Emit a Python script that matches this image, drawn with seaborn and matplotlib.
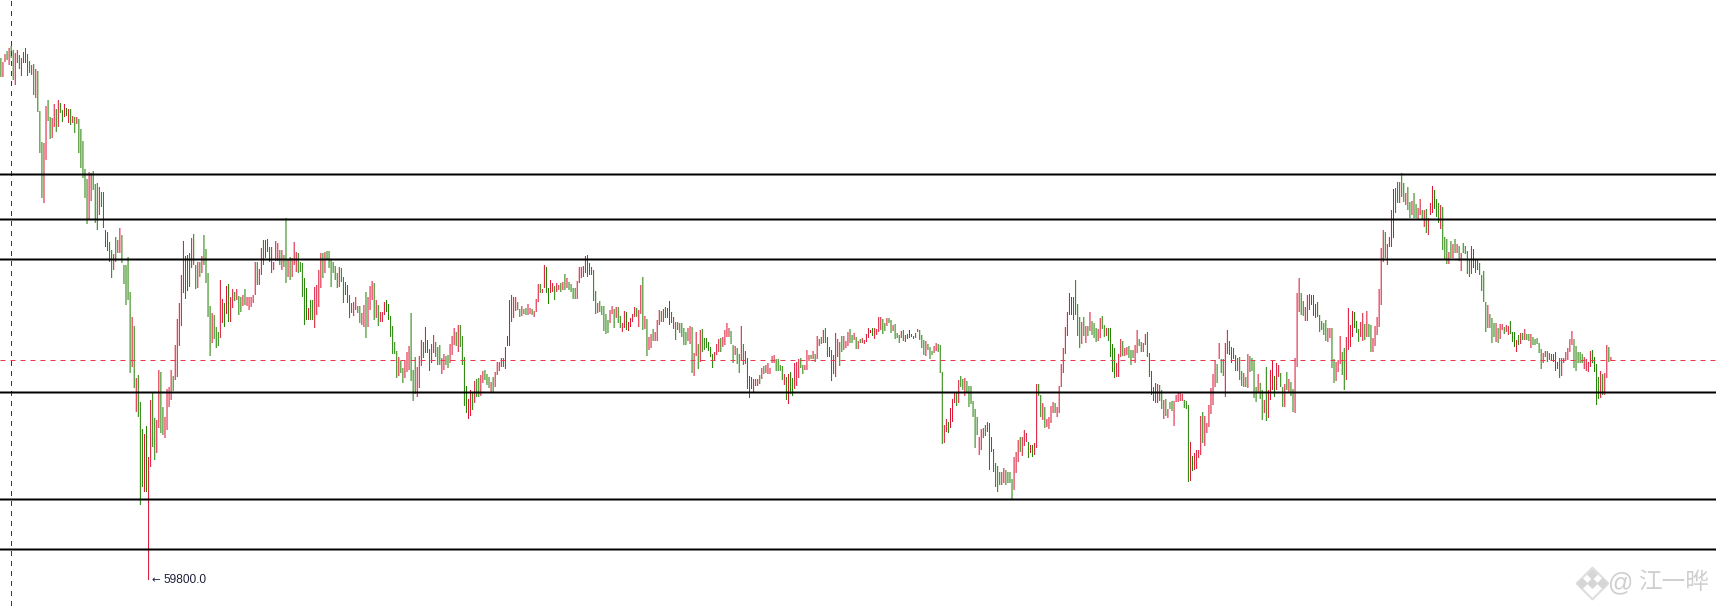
import matplotlib
matplotlib.use("Agg")
import matplotlib.pyplot as plt
import pandas as pd
import seaborn as sns

# Price = LOW_PRICE + TICK * value, every series below is in ticks above the low
LOW_PRICE = 59800
TICK = 25

high_a = [522, 518, 526, 529, 532, 534, 530, 527, 530, 525,
          522, 528, 532, 526, 519, 515, 516, 511, 509,
          469, 438, 437, 474, 480, 463, 462, 476, 471, 480,
          477, 470, 476, 472, 471, 471, 464, 463, 463, 461,
          451, 439, 411, 401, 408, 407, 409, 396, 397, 393,
          388, 388]
low_a = [503, 503, 518, 520, 515, 522, 500, 495, 517, 511,
         504, 517, 517, 504, 507, 505, 485, 482, 468,
         427, 382, 377, 420, 459, 441, 442, 453, 448, 453,
         467, 458, 463, 464, 457, 455, 457, 447, 456, 427,
         412, 402, 382, 356, 360, 379, 390, 357, 350, 365,
         373, 352]
dir_a = ("grrgrggrrg" "rrgggrgrg" "ggrrggrrgr" "ggrgrgrgrg"
         "ggggrrgggr" "gg")

high_b = [350, 348, 338, 330, 326, 343, 340, 352, 345, 315,
          315, 323, 288, 263, 254, 202, 205, 178, 151,
          146, 154, 123, 180, 187, 162, 160, 210, 208, 173,
          163, 191, 193, 210, 204, 235, 261, 277, 305, 339,
          324, 325, 327, 342, 346, 315, 318, 318, 324, 345,
          331, 307, 274, 267, 265, 253, 248, 300, 281, 277,
          294, 296, 283, 291, 288, 291, 284, 283, 285, 291,
          283, 283, 283, 285, 318, 318, 311, 332, 340, 340,
          341, 333, 333, 318, 339, 337, 330, 330, 325, 362,
          320, 323, 322, 338, 328, 327, 318, 317, 302, 292,
          272, 280, 280, 293, 295, 310, 327, 327, 328, 329]
low_b = [333, 329, 318, 302, 310, 318, 327, 327, 317, 296,
         275, 280, 207, 213, 192, 168, 163, 75, 93,
         88, 88, 0, 113, 133, 120, 127, 152, 147, 145,
         142, 150, 173, 180, 189, 200, 203, 234, 254, 287,
         281, 289, 293, 312, 315, 291, 292, 303, 307, 315,
         297, 263, 224, 237, 241, 232, 234, 242, 257, 253,
         266, 258, 258, 272, 279, 280, 265, 268, 274, 275,
         274, 270, 273, 277, 285, 295, 295, 305, 315, 322,
         328, 318, 307, 310, 319, 319, 315, 310, 313, 297,
         303, 300, 303, 315, 308, 307, 308, 283, 255, 260,
         260, 260, 260, 252, 265, 273, 292, 302, 307, 320]
dir_b = ("ggggrgrrgg" "gggrgrggg" "rgrrggrrgg" "rrrrgrrrrr"
         "grgrggrgrg" "gggrgggrrg" "rgrrgrggrg" "rrrrrgrrgr"
         "ggrrrrgrgg" "rgrrrggggg" "rggrrrrgrg")

high_c = [329, 320, 318, 314, 307, 313, 312, 303, 298, 295, 285,
          277, 278, 283, 274, 274, 267, 275, 288, 283, 294,
          299, 297, 280, 275, 268, 268, 278, 280, 276, 264,
          254, 238, 229, 223, 219, 212, 219, 228, 234, 267,
          210, 223, 213, 224, 240, 238, 253, 240, 231, 236,
          245, 238, 233, 235, 222, 226, 224, 225, 236, 244,
          252, 248, 255, 255, 244, 223, 194, 181, 190, 187,
          199, 201, 202, 205, 209, 210, 206, 203, 198, 203,
          208, 218, 218, 222, 222, 233, 244, 280, 285, 283,
          283, 278, 271, 274, 271, 272, 276, 272, 271, 269,
          281, 296, 296, 291, 315, 313, 292, 300, 297, 294, 297,
          295, 297, 298, 306, 302, 298, 296, 292, 292, 299,
          313, 313, 314, 324, 325, 317, 313, 310, 289, 277,
          279, 274, 274, 266, 260, 270, 274, 271, 273, 273]
low_c = [312, 293, 307, 300, 292, 293, 298, 277, 285, 277, 262,
         267, 264, 270, 267, 257, 255, 253, 242, 253, 270,
         280, 260, 262, 254, 258, 258, 265, 268, 260, 243,
         226, 226, 202, 204, 207, 197, 202, 208, 210, 199,
         179, 186, 183, 192, 214, 222, 227, 227, 209, 217,
         227, 223, 215, 215, 206, 210, 215, 212, 217, 225,
         235, 234, 228, 233, 215, 174, 167, 161, 164, 170,
         177, 183, 183, 184, 197, 200, 195, 192, 187, 187,
         193, 205, 209, 213, 213, 211, 234, 234, 258, 262,
         269, 270, 263, 264, 266, 265, 265, 266, 265, 263,
         268, 278, 287, 287, 292, 287, 276, 287, 288, 280, 288,
         290, 288, 290, 290, 292, 290, 288, 281, 281, 281,
         297, 302, 303, 307, 303, 305, 305, 279, 266, 267,
         268, 265, 249, 246, 247, 257, 266, 252, 262, 257]
dir_c = ("gggggrggggg" "rrrggrrgrr" "rgrgrrrggg" "gggrggrrrg"
         "ggrrrgrggr" "rgggrrggrr" "rgrggggrrg" "rggrrgggrg"
         "rrrrgrrrrr" "rggrggrrgr" "rrgrrggrrgr" "rgrgrggggr"
         "rrrrggrggr" "gggggrrgrg")

high_d = [264, 257, 269, 268, 258, 262, 266, 273, 272, 270,
          295, 303, 264, 261, 243, 246, 251, 248, 260, 270,
          269, 271, 273, 272, 279, 268, 263, 258, 258, 257,
          257, 252, 248, 252, 254, 253, 227, 248, 236, 250,
          251, 242, 242, 238, 233, 226, 228, 236, 241, 242,
          243, 250, 257, 252, 249, 235, 234, 232, 226, 254,
          236, 229, 222, 204, 203, 201, 201, 201, 205, 212,
          214, 215, 217, 212, 224, 225, 221, 221, 215, 214,
          206, 203, 206, 208, 202, 217, 218, 221, 222, 215,
          215, 230, 225, 225, 229, 226, 244, 241, 243, 250,
          252, 243, 233, 230, 225, 247, 241, 238, 244, 244,
          239, 248, 251, 245, 247, 243, 239, 241, 242, 240, 246,
          252, 250, 252, 252, 251, 263, 263, 261, 257, 262,
          262, 260, 255, 256, 247, 245, 249, 250, 245, 246,
          250, 246, 244, 247, 251]
low_d = [252, 248, 252, 250, 249, 253, 258, 263, 263, 253,
         266, 250, 251, 224, 230, 232, 239, 239, 239, 255,
         258, 258, 262, 262, 255, 257, 251, 240, 250, 247,
         243, 235, 235, 239, 236, 207, 204, 224, 211, 218,
         228, 230, 232, 229, 223, 212, 220, 225, 228, 228,
         233, 235, 243, 243, 236, 217, 225, 216, 207, 220,
         215, 216, 191, 182, 191, 188, 194, 194, 196, 201,
         206, 207, 206, 206, 217, 217, 209, 209, 209, 200,
         195, 180, 176, 186, 184, 191, 194, 202, 212, 206,
         210, 210, 219, 221, 221, 218, 221, 234, 236, 237,
         237, 223, 223, 199, 206, 203, 223, 214, 228, 230,
         232, 234, 237, 237, 240, 231, 231, 237, 237, 236, 238,
         242, 247, 244, 241, 245, 248, 250, 246, 249, 254,
         257, 247, 249, 241, 242, 237, 242, 239, 238, 241,
         242, 243, 241, 242, 248]
dir_d = ("grrgrrrrgr" "rgrgrrgrrr" "grggrgrgrg" "gggrrgrrgr"
         "ggggggrrrg" "rrrrggrggr" "grggrrrrgr" "grrrrrgggg"
         "rgrggrrrgg" "rrrgrgrrgr" "ggrgrrrggr" "rrggrgrgrrr"
         "rrgrrrrggr" "ggrgggrgrg" "rggrr")

high_e = [250, 245, 240, 239, 236, 233, 229, 234, 237,
          236, 235, 208, 155, 161, 158, 172, 181, 187, 187,
          200, 204, 201, 202, 199, 194, 194, 179, 171, 163,
          143, 151, 152, 155, 158, 157, 143, 131, 117, 114,
          108, 108, 112, 110, 108, 108, 101, 123, 128, 140,
          143, 143, 150, 147, 138, 135, 135, 137, 196, 196,
          185, 177, 173, 161, 163, 174, 178, 177, 173, 194,
          216, 232, 253, 268, 287, 283, 283, 300, 276, 263,
          258, 263, 254, 254, 268, 259, 257, 252, 251, 262,
          264, 255, 252, 252, 252, 236, 232, 217, 226, 241,
          239, 232, 233, 234, 230, 230, 235, 250, 241, 238,
          237, 246, 248, 227, 209, 193, 197, 196, 195, 190,
          180, 181, 171, 178, 179, 179, 185, 187, 187, 186,
          180, 179, 175, 138, 124, 127, 130, 130, 164,
          168, 164, 157, 175, 192, 206, 220, 216]
low_e = [240, 232, 225, 224, 230, 221, 225, 227, 229,
         228, 207, 136, 137, 148, 147, 152, 158, 177, 174,
         177, 193, 190, 184, 188, 173, 176, 163, 132, 145,
         125, 130, 142, 144, 148, 110, 128, 108, 93, 88,
         95, 95, 97, 95, 97, 97, 80, 90, 107, 118,
         128, 124, 134, 138, 122, 127, 123, 125, 132, 184,
         163, 160, 152, 153, 151, 157, 167, 167, 163, 167,
         193, 207, 226, 244, 265, 265, 260, 265, 244, 232,
         236, 244, 237, 244, 249, 245, 242, 238, 239, 242,
         251, 243, 244, 239, 223, 208, 202, 203, 203, 223,
         224, 224, 225, 222, 215, 222, 217, 227, 234, 228,
         228, 235, 223, 203, 185, 179, 177, 177, 179, 171,
         161, 164, 162, 171, 169, 154, 178, 178, 179, 179,
         172, 171, 98, 99, 109, 110, 111, 122, 125,
         137, 134, 147, 153, 166, 175, 193, 197]
dir_e = ("gggrgggrr" "gggrrgrrrg" "rggrgggggg" "rrrgrggggg"
         "grrggggrrr" "grrrgrgrrg" "grgrrrrgrr" "rrrrrrgggg"
         "rgrgrgggrr" "ggrggggrrr" "grrgggrrgg" "rrggggrrgg"
         "rgrggrrrrr" "gggrgrrrr" "grrrrrrg")

high_f = [237, 221, 221, 237, 250, 239, 233, 232, 225, 222,
          223, 209, 207, 203, 226, 224, 222, 219, 193, 206,
          197, 190, 180, 213, 190, 210, 219, 204, 217, 215,
          207, 193, 196, 208, 201, 198, 191, 222, 287, 302,
          287, 279, 273, 285, 286, 285, 285, 276, 278, 265,
          259, 257, 260, 252, 252, 252, 221, 218, 220, 244,
          228, 232, 243, 272, 255, 269, 268, 259, 251, 258,
          267, 256, 269, 256, 255, 242, 254, 263, 291, 332,
          350, 348, 336, 343, 370, 391, 392, 398, 398, 407,
          397, 387, 393, 378, 379, 387, 376, 372, 381, 370,
          370, 371, 362, 377, 394, 390, 381, 377, 375, 373,
          343, 341, 328, 339, 336, 341, 336, 334, 327, 337,
          334, 329, 320, 334, 331, 320, 320, 317, 305, 309,
          278, 275, 266, 262, 257, 257, 252]
low_f = [221, 207, 204, 183, 226, 225, 217, 221, 209, 209,
         200, 194, 193, 193, 192, 208, 209, 182, 178, 187,
         181, 160, 167, 159, 162, 180, 190, 183, 190, 203,
         193, 173, 173, 190, 188, 184, 168, 167, 213, 268,
         265, 264, 259, 259, 270, 275, 264, 262, 263, 248,
         250, 245, 239, 238, 242, 212, 197, 199, 208, 216,
         205, 190, 200, 230, 233, 243, 252, 247, 238, 243,
         239, 240, 243, 243, 228, 228, 234, 245, 253, 275,
         318, 322, 315, 333, 333, 342, 367, 377, 377, 383,
         378, 375, 370, 362, 365, 362, 362, 361, 365, 361,
         353, 347, 345, 365, 367, 371, 363, 357, 351, 330,
         321, 316, 316, 322, 322, 327, 327, 319, 309, 327,
         326, 306, 303, 306, 312, 307, 310, 305, 289, 278,
         248, 252, 252, 237, 243, 238, 237]
dir_f = ("rggrrggggr" "ggrgrggggr" "ggrgrrrgrr" "ggrgrggrrr"
         "ggrrrrgrgg" "gggrrggrrr" "ggrrrrgggr" "rgrggrrrrr"
         "rgrrrrggrg" "grggrggrrg" "rgrrrgggrg" "ggrgrgrgrg"
         "gggrrggggg" "grgggrg")

high_g = [256, 256, 253, 255, 254, 259, 248, 248, 240, 245,
          247, 247, 251, 246, 246, 246, 243, 241, 242, 237,
          231, 227, 229, 229, 227, 226, 226, 228, 218, 222,
          222, 222, 228, 232, 241, 249, 241, 234, 228, 228,
          226, 223, 221, 218, 229, 230, 223, 216, 203, 209,
          206, 207, 235, 233, 223]
low_g = [241, 250, 246, 248, 245, 246, 238, 233, 228, 235,
         236, 240, 240, 240, 239, 232, 235, 235, 236, 227,
         211, 217, 223, 218, 220, 219, 218, 209, 211, 202,
         204, 217, 219, 220, 228, 235, 212, 209, 217, 217,
         217, 211, 209, 208, 213, 217, 208, 175, 181, 182,
         185, 185, 202, 218, 219]
dir_g = ("rrgrrgggrg" "rgrggrgggg" "grrgrgrgrg" "rrrrrrgggg"
         "grrrrggggr" "grrgr")

# Horizontal support and resistance levels, and the last price
level_prices = [69937.5, 68812.5, 67812.5, 64487.5, 61812.5, 60562.5]
last_price = 65312.5
low_label = "59800.0"

highs = high_a + high_b + high_c + high_d + high_e + high_f + high_g
lows = low_a + low_b + low_c + low_d + low_e + low_f + low_g
dirs = dir_a + dir_b + dir_c + dir_d + dir_e + dir_f + dir_g
n_bars = min(len(highs), len(lows), len(dirs))

sns.set_theme(style="white")
plt.rcParams["font.family"] = ["Liberation Sans", "Noto Sans CJK SC", "DejaVu Sans"]

rows = []
for i in range(n_bars):
    rows.append({"bar": i, "price": LOW_PRICE + TICK * highs[i], "dir": dirs[i]})
    rows.append({"bar": i, "price": LOW_PRICE + TICK * lows[i], "dir": dirs[i]})
data = pd.DataFrame(rows)

fig = plt.figure(figsize=(17.16, 6.10), dpi=100)
ax = fig.add_axes([0, 0, 1, 1])

sns.lineplot(data=data, x="bar", y="price", hue="dir", units="bar",
             estimator=None, sort=False, legend=False,
             palette={"g": "#1f8000", "r": "#dc1030"},
             linewidth=0.72, solid_capstyle="butt", snap=False, ax=ax)

px = (n_bars - 1) / 1610
ax.set_xlim(-0.9 * px, (1716 - 0.9) * px)
ax.set_ylim(LOW_PRICE + TICK * (580 - 610), LOW_PRICE + TICK * 580)

for level in level_prices:
    ax.axhline(level, color="black", lw=1.44, zorder=5, snap=False)
ax.axhline(last_price, color="#e8394d", lw=0.72, dashes=(5, 5), zorder=4)
ax.axvline(10.6 * px, ymin=4 / 610, color="#1c30c0", lw=0.72, dashes=(5, 5),
           zorder=4, snap=False)

ax.text(152 / 1716, 1 - 580.5 / 610, "\u2190", transform=ax.transAxes, fontsize=7.5,
        color="#20203a", va="center", ha="left", family="DejaVu Sans")
ax.text(164 / 1716, 1 - 580 / 610, low_label, transform=ax.transAxes,
        fontsize=8.6, color="#20203a", va="center", ha="left")

# Watermark in the bottom right corner
wm = "#cfcfcf"
ax.scatter([1592 / 1716], [1 - 583 / 610], s=260, marker="D", facecolor="white",
           edgecolor="#dedede", lw=1.5, transform=ax.transAxes, zorder=6)
ax.scatter([1592 / 1716, 1582 / 1716, 1602 / 1716, 1592 / 1716],
           [1 - 574 / 610, 1 - 583 / 610, 1 - 583 / 610, 1 - 583 / 610], s=22, marker="D",
           color="#d6d6d6", transform=ax.transAxes, zorder=7)
ax.text(1621 / 1716, 1 - 583 / 610, "@", transform=ax.transAxes, fontsize=18,
        color=wm, va="center", ha="center", zorder=6)
ax.text(1638 / 1716, 1 - 583 / 610, "\u6c5f\u4e00\u6654", transform=ax.transAxes,
        fontsize=17, color=wm, va="center", ha="left", zorder=6)

ax.set_axis_off()
fig.savefig("out.png", dpi=100)
plt.close(fig)
print(len(highs), len(lows), len(dirs))
